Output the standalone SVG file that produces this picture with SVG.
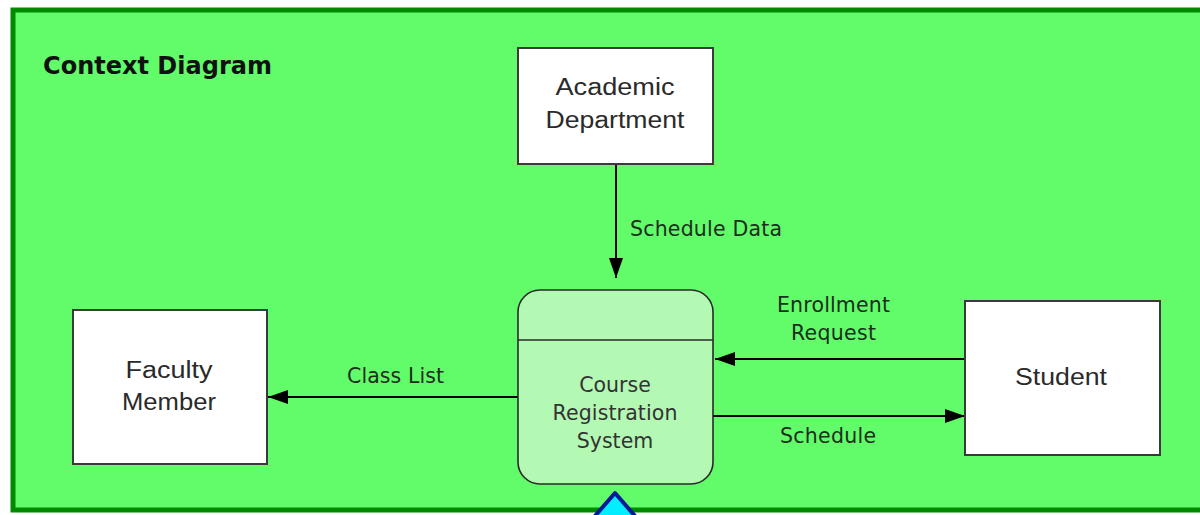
<svg xmlns="http://www.w3.org/2000/svg" width="1200" height="515" viewBox="0 0 1200 515">
<style>
.frame{fill:#62fb6a;stroke:#008a00;stroke-width:5}
.ent{fill:#ffffff;stroke:#3a3a3a;stroke-width:2}
.proc{fill:#b3f8b3;stroke:#2a2a2a;stroke-width:1.6}
.etxt{font-family:"Liberation Sans",Arial,sans-serif;font-size:23px;fill:#2a2a2a;text-anchor:middle}
.ptxt{font-family:"DejaVu Sans",Verdana,sans-serif;font-size:20.5px;fill:#333;text-anchor:middle}
.lbl{font-family:"DejaVu Sans",Verdana,sans-serif;font-size:20.5px;fill:#1c2e1c}
.title{font-family:"DejaVu Sans",Verdana,sans-serif;font-size:24px;font-weight:bold;fill:#111}
.flow{stroke:#000;stroke-width:2;fill:none;marker-end:url(#ah)}
</style>
<defs>
<marker id="ah" markerUnits="userSpaceOnUse" markerWidth="20" markerHeight="14" refX="20" refY="7" orient="auto">
<path d="M0,0 L20,7 L0,14 Z" fill="#000"/>
</marker>
</defs>
<rect x="0" y="0" width="1200" height="515" fill="#ffffff"/>
<rect class="frame" x="13" y="10" width="1200" height="500"/>
<text class="title" x="43" y="74" textLength="229">Context Diagram</text>

<g id="connectors">
<line class="flow" x1="616" y1="165" x2="616" y2="278"/>
<text class="lbl" x="630" y="236" textLength="152">Schedule Data</text>
<line class="flow" x1="518" y1="397" x2="268" y2="397"/>
<text class="lbl" x="347" y="383" textLength="97">Class List</text>
<line class="flow" x1="965" y1="359" x2="715" y2="359"/>
<text class="lbl" x="777" y="312" textLength="113">Enrollment</text>
<text class="lbl" x="791" y="340" textLength="85">Request</text>
<line class="flow" x1="713" y1="416" x2="965" y2="416"/>
<text class="lbl" x="780" y="443" textLength="96">Schedule</text>
</g>

<g id="academic-department">
<rect class="ent" x="518" y="48" width="195" height="116"/>
<text class="etxt" x="615" y="95" textLength="119" lengthAdjust="spacingAndGlyphs">Academic</text>
<text class="etxt" x="615" y="128" textLength="139" lengthAdjust="spacingAndGlyphs">Department</text>
</g>

<g id="faculty-member">
<rect class="ent" x="73" y="310" width="194" height="154"/>
<text class="etxt" x="169" y="378" textLength="87" lengthAdjust="spacingAndGlyphs">Faculty</text>
<text class="etxt" x="169" y="410" textLength="94" lengthAdjust="spacingAndGlyphs">Member</text>
</g>

<g id="student">
<rect class="ent" x="965" y="301" width="195" height="154"/>
<text class="etxt" x="1061" y="385" textLength="92" lengthAdjust="spacingAndGlyphs">Student</text>
</g>

<g id="course-registration-system">
<rect class="proc" x="518" y="290" width="195" height="194" rx="22" ry="22"/>
<line x1="518" y1="340" x2="713" y2="340" stroke="#2a2a2a" stroke-width="1.6"/>
<text class="ptxt" x="615" y="392">Course</text>
<text class="ptxt" x="615" y="420" textLength="125">Registration</text>
<text class="ptxt" x="615" y="448">System</text>
</g>

<g id="connector-marker">
<path d="M615,493 L588,524 L642,524 Z" fill="#00eeff" stroke="#001a99" stroke-width="4" stroke-linejoin="round"/>
</g>
</svg>
